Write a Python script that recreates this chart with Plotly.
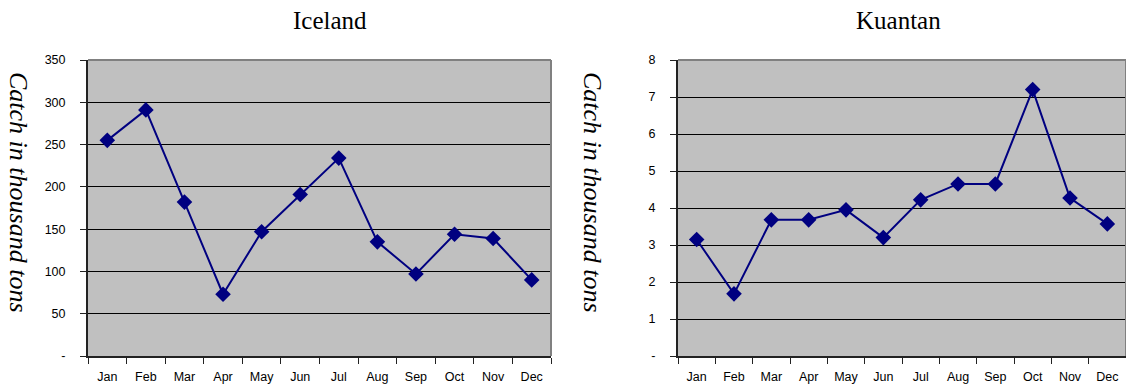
import plotly.graph_objects as go

months = ["Jan", "Feb", "Mar", "Apr", "May", "Jun", "Jul", "Aug", "Sep", "Oct", "Nov", "Dec"]
iceland = [255, 291, 182, 73, 147, 191, 234, 135, 97, 144, 139, 90]
kuantan = [3.15, 1.68, 3.68, 3.68, 3.95, 3.2, 4.22, 4.65, 4.65, 7.2, 4.27, 3.57]

ice_ticks = [0, 50, 100, 150, 200, 250, 300, 350]
ice_ticktext = ["-", "50", "100", "150", "200", "250", "300", "350"]
kua_ticks = [0, 1, 2, 3, 4, 5, 6, 7, 8]
kua_ticktext = ["-", "1", "2", "3", "4", "5", "6", "7", "8"]

titles = ["Iceland", "Kuantan"]
ytitle = "Catch in thousand tons"

W, H = 1126, 387
navy = "#000080"

fig = go.Figure()
fig.add_trace(go.Scatter(x=months, y=iceland, xaxis="x", yaxis="y", mode="lines+markers",
                         line=dict(color=navy, width=2),
                         marker=dict(symbol="diamond", size=12, color=navy)))
fig.add_trace(go.Scatter(x=months, y=kuantan, xaxis="x2", yaxis="y2", mode="lines+markers",
                         line=dict(color=navy, width=2),
                         marker=dict(symbol="diamond", size=12, color=navy)))

tickfont = dict(family="Liberation Sans, Arial", size=12.5, color="black")
ydom = [1 - 356 / H, 1 - 60 / H]

def xax(dom, anchor):
    return dict(domain=dom, anchor=anchor, type="category", showgrid=False,
                range=[-0.5, len(months) - 0.5],
                showline=True, linecolor="#222", linewidth=2, ticks="outside",
                tickson="boundaries", ticklen=6, tickcolor="#222", tickfont=tickfont,
                ticklabelstandoff=8, zeroline=False, fixedrange=True, automargin=False)

def yax(dom, anchor, rng, tv, tt):
    return dict(domain=dom, anchor=anchor, range=rng, tickvals=tv, ticktext=tt,
                showgrid=True, gridcolor="black", gridwidth=1,
                showline=True, linecolor="#222", linewidth=2, ticks="outside",
                ticklen=6, tickcolor="#222", tickfont=tickfont, ticklabelstandoff=12,
                zeroline=False, fixedrange=True, automargin=False)

fig.update_layout(
    template="none",
    width=W, height=H,
    margin=dict(l=0, r=0, t=0, b=0, autoexpand=False),
    paper_bgcolor="white", plot_bgcolor="#C0C0C0",
    showlegend=False,
    xaxis=xax([88 / W, 551 / W], "y"),
    yaxis=yax(ydom, "x", [0, 350], ice_ticks, ice_ticktext),
    xaxis2=xax([678 / W, 1.0], "y2"),
    yaxis2=yax(ydom, "x2", [0, 8], kua_ticks, kua_ticktext),
)

serif = "Liberation Serif, Times New Roman, serif"
anns = [
    dict(text=titles[0], x=330 / W, y=1 - 20 / H),
    dict(text=titles[1], x=898 / W, y=1 - 20 / H),
]
for a in anns:
    fig.add_annotation(text=a["text"], x=a["x"], y=a["y"], xref="paper", yref="paper",
                       showarrow=False, xanchor="center", yanchor="middle",
                       font=dict(family=serif, size=25, color="black"))
for xc in [19, 593]:
    fig.add_annotation(text=ytitle, x=xc / W, y=1 - 192 / H,
                       xref="paper", yref="paper", showarrow=False, textangle=90,
                       xanchor="center", yanchor="middle",
                       font=dict(family=serif, size=26, color="black", style="italic"))

# gray top/right plot-area border
for xr, yr in [("x domain", "y domain"), ("x2 domain", "y2 domain")]:
    fig.add_shape(type="line", xref=xr, yref=yr, x0=0, x1=1, y0=1, y1=1,
                  line=dict(color="#808080", width=2), layer="above")
    fig.add_shape(type="line", xref=xr, yref=yr, x0=1, x1=1, y0=0, y1=1,
                  line=dict(color="#808080", width=2), layer="above")

fig.write_html("out.html")
